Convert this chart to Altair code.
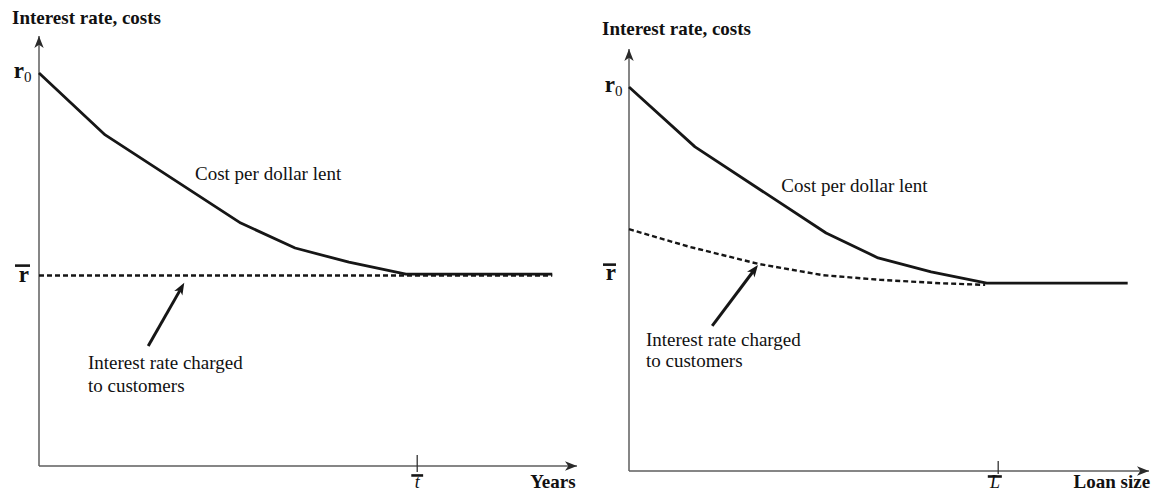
import math
import altair as alt
import pandas as pd

FONT = "Liberation Serif"
INK = "#161616"
AXIS_INK = "#5e5e5e"
ARROW = "M0,0 L-2,-0.78 L-1.45,0 L-2,0.78 Z"
ARROW_SIZE = 144  # path unit = sqrt(size)/2 = 6 px

# ---------------- data (conceptual units, axes run 0..100) ----------------
# Left panel: years
years_x = [0, 12.3, 37.5, 47.6, 57.6, 68.2, 95.4]
years_cost = [91.4, 77.0, 56.5, 50.7, 47.4, 44.6, 44.6]
years_rate_x = [0, 95.4]
years_rate = [44.3, 44.3]
t_bar = 70.3

# Right panel: loan size
loan_x = [0, 12.7, 37.9, 47.9, 58.1, 68.8, 95.9]
loan_cost = [91.0, 76.8, 56.4, 50.5, 47.2, 44.5, 44.5]
loan_rate_x = [0, 11.7, 24.8, 37.3, 48.3, 59.8, 68.5]
loan_rate = [57.3, 53.1, 49.1, 46.4, 45.3, 44.5, 44.1]
L_bar = 71.0

y_title = "Interest rate, costs"
cost_label = "Cost per dollar lent"
rate_label = ["Interest rate charged", "to customers"]

# ---------------- panel geometry (pixels inside each panel) ----------------
LEFT = dict(W=582, H=481, ox=31, oy=458, tipx=569, tipy=28)
RIGHT = dict(W=558, H=481, ox=36, oy=463, tipx=556, tipy=41)

STYLES = {
    "title": dict(fontWeight="bold", fontSize=19, align="left"),
    "rbig": dict(fontWeight="bold", fontSize=23, align="right"),
    "sub": dict(fontSize=15, align="left"),
    "note": dict(fontSize=19, align="left"),
    "ital": dict(fontStyle="italic", fontSize=18, align="center"),
}


def make_panel(g, cost_x, cost_y, rate_x, rate_y, tick_x, tick_rng, labels, bars,
               ann_tail, ann_tip):
    kx = (g["tipx"] - g["ox"]) / 100.0
    ky = (g["oy"] - g["tipy"]) / 100.0
    xs = alt.Scale(domain=[-g["ox"] / kx, (g["W"] - g["ox"]) / kx], nice=False, zero=False)
    ys = alt.Scale(domain=[-(g["H"] - g["oy"]) / ky, g["oy"] / ky], nice=False, zero=False)
    X = lambda: alt.X("x:Q", scale=xs, axis=None)
    Y = lambda: alt.Y("y:Q", scale=ys, axis=None)

    axes = pd.DataFrame({"x": [0, 0], "y": [0, 0], "x2": [100, 0], "y2": [0, 100]})
    axis_rules = alt.Chart(axes).mark_rule(color=AXIS_INK, strokeWidth=1.5).encode(
        x=X(), y=Y(), x2="x2:Q", y2="y2:Q")
    heads = pd.DataFrame({"x": [100, 0], "y": [0, 100], "angle": [0, 270]})
    axis_heads = alt.Chart(heads).mark_point(
        shape=ARROW, filled=True, size=ARROW_SIZE, color="#2a2a2a", opacity=1, strokeWidth=0
    ).encode(x=X(), y=Y(), angle=alt.Angle("angle:Q", scale=None))

    tick = alt.Chart(pd.DataFrame({"x": [tick_x], "y": [tick_rng[0]], "y2": [tick_rng[1]]})).mark_rule(
        color="#333", strokeWidth=1.3).encode(x=X(), y=Y(), y2="y2:Q")

    bar_df = pd.DataFrame(bars, columns=["x", "x2", "y"])
    bar_marks = alt.Chart(bar_df).mark_rule(color=INK, strokeWidth=2.6).encode(
        x=X(), x2="x2:Q", y=Y())

    cost = alt.Chart(pd.DataFrame({"x": cost_x, "y": cost_y, "i": range(len(cost_x))})).mark_line(
        color=INK, strokeWidth=2.8, strokeJoin="round").encode(x=X(), y=Y(), order="i:Q")
    rate = alt.Chart(pd.DataFrame({"x": rate_x, "y": rate_y, "i": range(len(rate_x))})).mark_line(
        color=INK, strokeWidth=2.4, strokeDash=[5, 3]).encode(x=X(), y=Y(), order="i:Q")

    # annotation arrow
    dxp = (ann_tip[0] - ann_tail[0]) * kx
    dyp = -(ann_tip[1] - ann_tail[1]) * ky
    ang = math.degrees(math.atan2(dyp, dxp)) % 360
    L = math.hypot(dxp, dyp)
    back = 1.45 * math.sqrt(ARROW_SIZE) / 2
    ex = ann_tip[0] - dxp / L * back / kx
    ey = ann_tip[1] + dyp / L * back / ky
    ann_line = alt.Chart(pd.DataFrame({"x": [ann_tail[0]], "y": [ann_tail[1]], "x2": [ex], "y2": [ey]})).mark_rule(
        color=INK, strokeWidth=3).encode(x=X(), y=Y(), x2="x2:Q", y2="y2:Q")
    ann_head = alt.Chart(pd.DataFrame({"x": [ann_tip[0]], "y": [ann_tip[1]], "angle": [ang]})).mark_point(
        shape=ARROW, filled=True, size=ARROW_SIZE, color=INK, opacity=1, strokeWidth=0
    ).encode(x=X(), y=Y(), angle=alt.Angle("angle:Q", scale=None))

    lab = pd.DataFrame(labels, columns=["x", "y", "text", "style"])
    text_layers = []
    for style, kw in STYLES.items():
        sub = lab[lab["style"] == style]
        if len(sub) == 0:
            continue
        base = dict(font=FONT, color="#111", baseline="alphabetic")
        base.update(kw)
        text_layers.append(alt.Chart(sub).mark_text(**base).encode(x=X(), y=Y(), text="text:N"))

    return alt.layer(axis_rules, axis_heads, tick, bar_marks, rate, cost, ann_line, ann_head,
                     *text_layers).properties(width=g["W"], height=g["H"])


left_labels = [
    (-5.02, 102.8, y_title, "title"),
    (91.3, -5.1, "Years", "title"),
    (-2.8, 90.2, "r", "rbig"),
    (-2.8, 89.3, "0", "sub"),
    (-1.86, 42.8, "r", "rbig"),
    (t_bar, -5.2, "t", "ital"),
    (29.0, 66.5, cost_label, "note"),
    (9.1, 22.6, rate_label[0], "note"),
    (9.1, 17.2, rate_label[1], "note"),
]
left_bars = [(-4.46, -1.67, 46.6), (69.2, 71.4, -2.2)]

right_labels = [
    (-5.19, 103.2, y_title, "title"),
    (85.5, -4.0, "Loan size", "title"),
    (-2.7, 89.8, "r", "rbig"),
    (-2.7, 88.9, "0", "sub"),
    (-2.5, 45.3, "r", "rbig"),
    (70.4, -4.1, "L", "ital"),
    (29.3, 66.1, cost_label, "note"),
    (3.27, 29.7, rate_label[0], "note"),
    (3.27, 24.7, rate_label[1], "note"),
]
right_bars = [(-5.0, -2.5, 48.9), (69.0, 71.7, -1.3)]

left = make_panel(LEFT, years_x, years_cost, years_rate_x, years_rate, t_bar, (-1.4, 2.56),
                  left_labels, left_bars, (20.3, 27.9), (27.0, 42.6))
right = make_panel(RIGHT, loan_x, loan_cost, loan_rate_x, loan_rate, L_bar, (-0.7, 2.37),
                   right_labels, right_bars, (16.0, 34.4), (24.8, 48.8))

chart = alt.hconcat(left, right, spacing=3, bounds="flush", padding=0).configure_view(
    stroke=None, strokeWidth=0)

chart.save("out.html", embed_options={"renderer": "svg", "actions": False})
